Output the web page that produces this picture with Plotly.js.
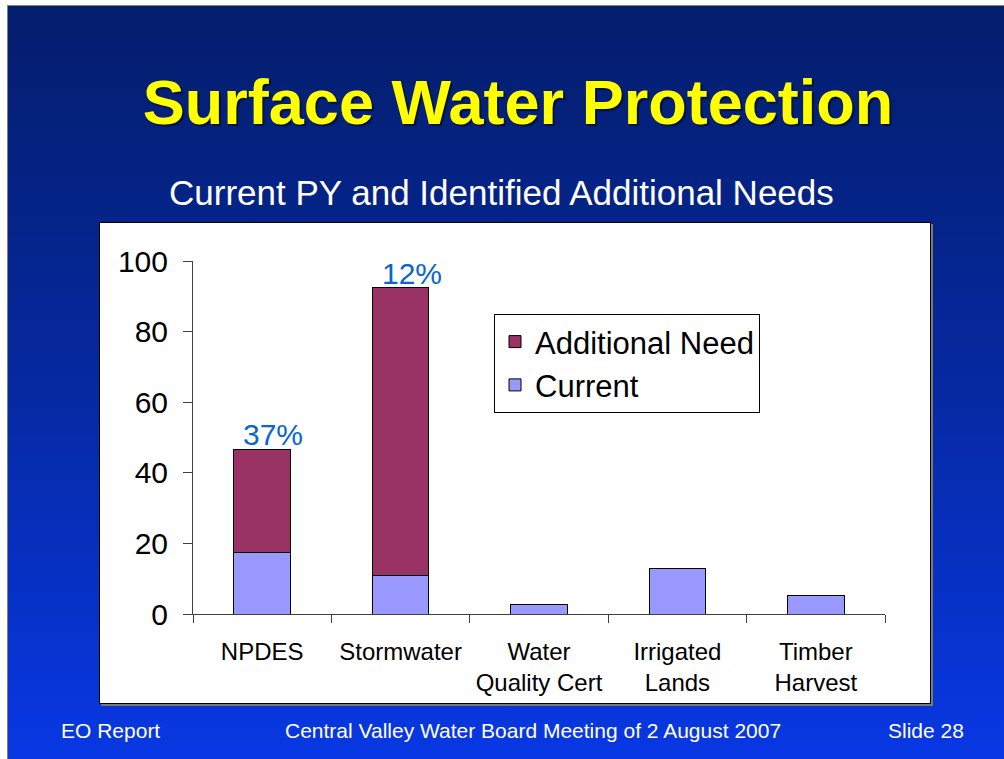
<!DOCTYPE html>
<html>
<head>
<meta charset="utf-8">
<script src="https://cdn.plot.ly/plotly-3.0.1.min.js"></script>
<style>
  html, body { margin: 0; padding: 0; width: 1004px; height: 759px; overflow: hidden; background: #ffffff; }
  #slide {
    position: absolute; left: 7px; top: 5px; width: 997px; height: 754px;
    border-left: 1px solid #808080; border-top: 1px solid #808080;
    background: linear-gradient(to bottom, #041E6C 0%, #05279A 45%, #0838E4 100%);
  }
  #panel {
    position: absolute; left: 99px; top: 222px; width: 830px; height: 480px;
    background: #ffffff; border: 1px solid #000000;
    box-shadow: 2px 2px 0 #7a7a7a;
  }
  #chart { position: absolute; left: 0; top: 0; width: 1004px; height: 759px; }
</style>
</head>
<body>
<div id="slide"></div>
<div id="panel"></div>
<div id="chart"></div>
<script>
// Staffing (PY) per surface water program: current positions and identified additional need
const categories = ['NPDES', 'Stormwater', 'Water<br>Quality Cert', 'Irrigated<br>Lands', 'Timber<br>Harvest'];
const current = [17.3, 11.0, 2.6, 13.0, 5.2];
const additionalNeed = [29.4, 81.4, 0, 0, 0];
const yTicks = [0, 20, 40, 60, 80, 100];

const FONT = 'Liberation Sans, Arial, sans-serif';

const traces = [
  {
    type: 'bar', name: 'Current', x: categories, y: current,
    width: 0.41,
    marker: { color: '#9999FF', line: { color: '#000000', width: 1 } },
    legendrank: 2, legendgroup: 'cur', hoverinfo: 'x+y'
  },
  {
    type: 'bar', name: 'Additional Need', x: categories, y: additionalNeed,
    width: 0.41,
    marker: { color: '#993366', line: { color: '#000000', width: 1 } },
    legendrank: 1, legendgroup: 'add', hoverinfo: 'x+y'
  }
];

// Share of the total that is currently staffed, shown above each stacked bar
const pctLabels = [];
categories.forEach((c, i) => {
  if (additionalNeed[i] > 0) {
    const total = current[i] + additionalNeed[i];
    pctLabels.push({
      x: c, y: total, xref: 'x', yref: 'y',
      text: Math.round(current[i] / total * 100) + '%',
      showarrow: false, yanchor: 'bottom', xshift: 11, yshift: -4,
      font: { family: FONT, size: 30, color: '#0A66CC' }
    });
  }
});

const footerY = (614.3 - 731) / 353.3;
const footer = [
  { text: 'EO Report', x: (110 - 193) / 692 },
  { text: 'Central Valley Water Board Meeting of 2 August 2007', x: (533 - 193) / 692 },
  { text: 'Slide 28', x: (926 - 193) / 692 }
].map(f => ({
  text: f.text, x: f.x, y: footerY, xref: 'paper', yref: 'paper',
  showarrow: false, xanchor: 'center', yanchor: 'middle',
  font: { family: FONT, size: 21, color: '#ffffff' }
}));

const subtitle = {
  text: 'Current PY and Identified Additional Needs',
  x: (501 - 193) / 692, y: (614.3 - 192) / 353.3, xref: 'paper', yref: 'paper',
  showarrow: false, xanchor: 'center', yanchor: 'middle',
  font: { family: FONT, size: 35, color: '#ffffff' }
};

const layout = {
  width: 1004, height: 759,
  margin: { l: 193, r: 119, t: 261, b: 145, pad: 0 },
  paper_bgcolor: 'rgba(0,0,0,0)',
  plot_bgcolor: 'rgba(0,0,0,0)',
  barmode: 'stack',
  bargap: 0.59,
  showlegend: true,
  title: {
    text: '<b>Surface Water Protection</b>',
    x: 518 / 1004, xanchor: 'center', xref: 'container',
    y: 1 - 102 / 759, yanchor: 'middle', yref: 'container',
    font: { family: FONT, size: 63, color: '#FFFF00', shadow: '2px 2px 1px rgba(0,0,0,0.45)' }
  },
  legend: {
    x: (494 - 193) / 692, y: (614.3 - 314) / 353.3, xanchor: 'left', yanchor: 'top',
    traceorder: 'grouped', tracegroupgap: 0,
    bgcolor: '#ffffff', bordercolor: '#000000', borderwidth: 1,
    font: { family: FONT, size: 31, color: '#000000' },
    itemclick: false, itemdoubleclick: false
  },
  xaxis: {
    type: 'category',
    showline: true, linecolor: '#404040', linewidth: 1,
    ticks: 'outside', tickson: 'boundaries', ticklen: 8, tickcolor: '#404040',
    ticklabelstandoff: 16,
    tickfont: { family: FONT, size: 24, color: '#000000' },
    showgrid: false, zeroline: false, fixedrange: true
  },
  yaxis: {
    range: [0, 100],
    tickvals: yTicks, ticktext: yTicks.map(String),
    showline: true, linecolor: '#404040', linewidth: 1,
    ticks: 'outside', ticklen: 9, tickcolor: '#404040',
    ticklabelstandoff: 9,
    tickfont: { family: FONT, size: 30, color: '#000000' },
    showgrid: false, zeroline: false, fixedrange: true
  },
  annotations: [subtitle, ...pctLabels, ...footer]
};

Plotly.newPlot('chart', traces, layout, { displayModeBar: false });
</script>
</body>
</html>
